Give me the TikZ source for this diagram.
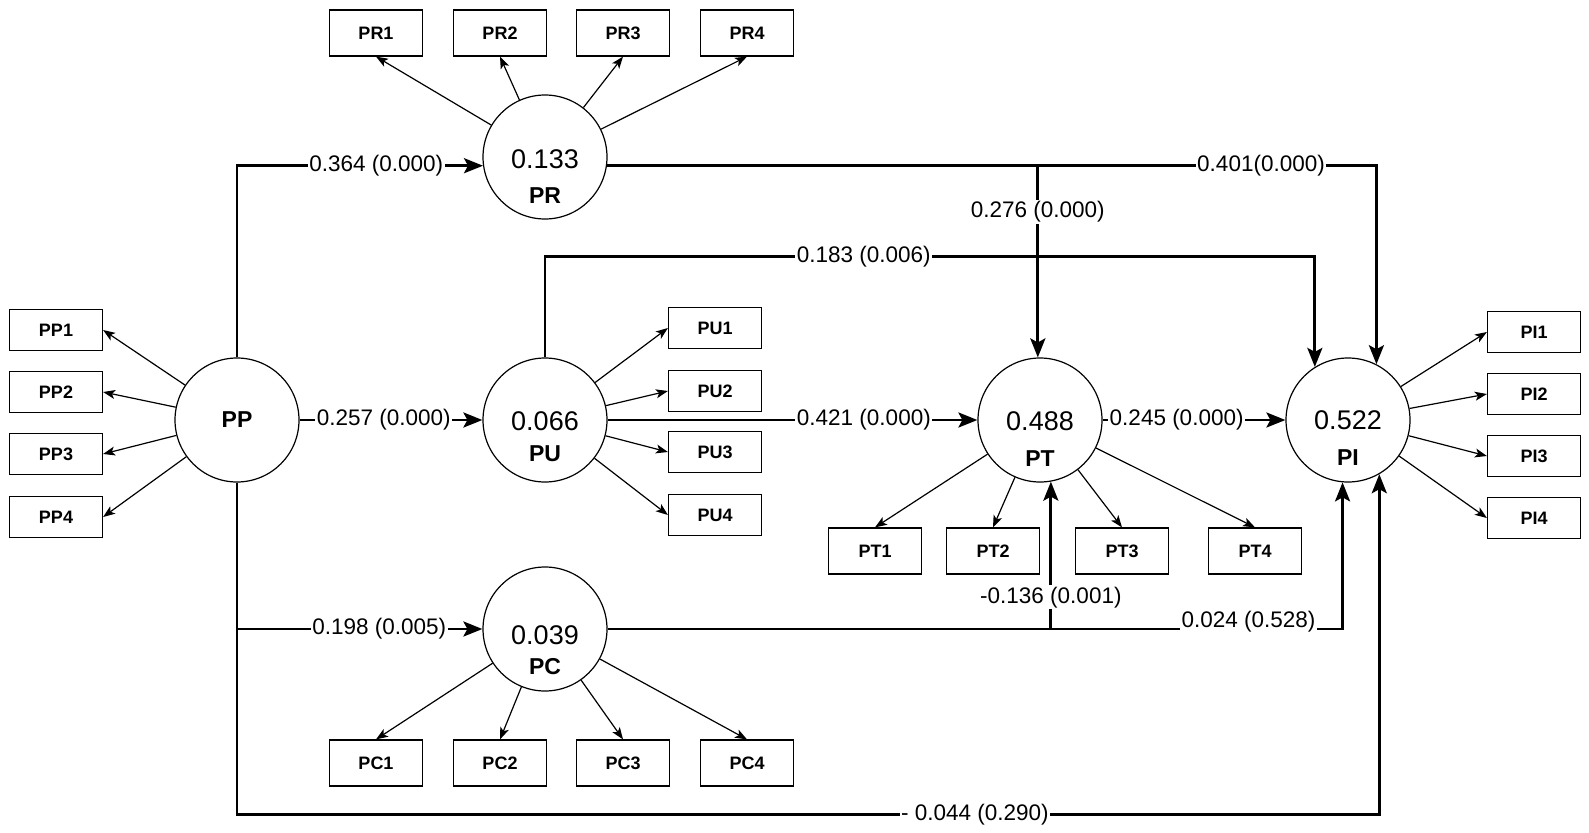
\documentclass[tikz,border=0pt]{standalone}
\usepackage{fontspec}
\setmainfont{Liberation Sans}
\usetikzlibrary{arrows.meta}

\tikzset{
  lv/.style={circle, draw, line width=1.2pt, minimum size=124pt, inner sep=0pt},
  ind/.style={rectangle, draw, line width=1.2pt, minimum width=93pt, minimum height=46pt,
    inner sep=0pt, font=\fontsize{18}{20}\selectfont\bfseries},
  indside/.style={ind, minimum height=41pt},
  val/.style={font=\fontsize{27}{30}\selectfont},
  lvname/.style={font=\fontsize{23}{26}\selectfont\bfseries},
  load/.style={-{Stealth[length=12pt,width=9pt,inset=3pt]}, line width=1.2pt},
  effect/.style={-{Stealth[length=19pt,width=15pt,inset=4pt]}, line width=2.8pt},
  coef/.style={fill=white, inner sep=1.5pt, font=\fontsize{22.5}{26}\selectfont},
}

\begin{document}
\begin{tikzpicture}[x=1pt, y=-1pt]
\useasboundingbox (0,0) rectangle (1589,832);

% latent variables
\node (PP) [lv] at (237,420) {};
\node (PR) [lv] at (545,157) {};
\node (PU) [lv] at (545,420) {};
\node (PC) [lv] at (545,629) {};
\node (PT) [lv] at (1040,420) {};
\node (PI) [lv] at (1348,420) {};

\node (PPn) [lvname] at (PP) {PP};
\node (PRv) [val] at ([yshift=-2pt]PR) {0.133};
\node (PRn) [lvname] at ([yshift=-39pt]PR) {PR};
\node (PUv) [val] at ([yshift=-1pt]PU) {0.066};
\node (PUn) [lvname] at ([yshift=-34pt]PU) {PU};
\node (PCv) [val] at ([yshift=-6pt]PC) {0.039};
\node (PCn) [lvname] at ([yshift=-38pt]PC) {PC};
\node (PTv) [val] at ([yshift=-1pt]PT) {0.488};
\node (PTn) [lvname] at ([yshift=-39pt]PT) {PT};
\node (PIv) [val] at ([yshift=0pt]PI) {0.522};
\node (PIn) [lvname] at ([yshift=-38pt]PI) {PI};

% indicators
\foreach \i/\x in {1/376,2/500,3/623,4/747} {
  \node (PR\i) [ind] at (\x,33) {PR\i};
  \node (PC\i) [ind] at (\x,763) {PC\i};
  \draw [load] (PR) -- (PR\i.south);
  \draw [load] (PC) -- (PC\i.north);
}
\foreach \i/\y in {1/330,2/392,3/454,4/517} {
  \node (PP\i) [indside] at (56,\y) {PP\i};
  \draw [load] (PP) -- (PP\i.east);
}
\foreach \i/\y in {1/328,2/391,3/452,4/515} {
  \node (PU\i) [indside] at (715,\y) {PU\i};
  \draw [load] (PU) -- (PU\i.west);
}
\foreach \i/\y in {1/332,2/394,3/456,4/518} {
  \node (PI\i) [indside] at (1534,\y) {PI\i};
  \draw [load] (PI) -- (PI\i.west);
}
\foreach \i/\x in {1/875,2/993,3/1122,4/1255} {
  \node (PT\i) [ind] at (\x,551) {PT\i};
  \draw [load] (PT) -- (PT\i.north);
}

% structural paths
\draw [effect] (PP.north) |- node[coef, pos=0.783] {0.364 (0.000)} (PR.188);
\draw [effect] (PP.east) -- node[coef, pos=0.46] {0.257 (0.000)} (PU.west);
\draw [effect] (PP.south) |- node[coef, pos=0.79] {0.198 (0.005)} (PC.west);
\draw [effect] (PP.south) -- ++(0,332) -| node[coef, pos=0.323] {- 0.044 (0.290)} (PI.-60);
\draw [effect] (PR.-8) -| node[coef, pos=0.62] {0.276 (0.000)} (PT.92);
\draw [effect] (PR.-8) -| node[coef, pos=0.425] {0.401(0.000)} (PI.63);
\draw [effect] (PU.north) -- ++(0,-101) -| node[coef, pos=0.207] {0.183 (0.006)} (PI.122);
\draw [effect] (PU.east) -- node[coef, pos=0.693] {0.421 (0.000)} (PT.west);
\draw [effect] (PT.east) -- node[coef, pos=0.405] {0.245 (0.000)} (PI.west);
\draw [effect] (PC.east) -| node[coef, pos=0.608] {-0.136 (0.001)} (PT.-80);
\draw [effect] (PC.east) -| node[coef, pos=0.436, yshift=7pt] {0.024 (0.528)} (PI.-95);
\end{tikzpicture}
\end{document}
